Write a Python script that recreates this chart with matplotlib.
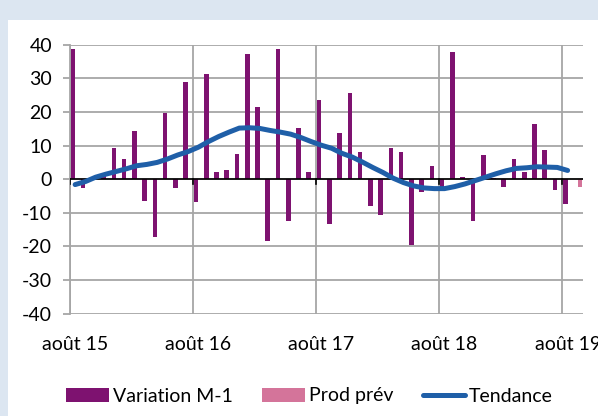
import numpy as np
import matplotlib.pyplot as plt
from matplotlib.patches import Rectangle

plt.rcParams['font.family'] = ['Lato', 'DejaVu Sans']
plt.rcParams['axes.unicode_minus'] = False

# monthly data, Aug 2015 -> Sep 2019 (50 months)
variation = [38.7, -2.5, 0.0, 1.0, 9.3, 6.1, 14.3, -6.4, -17.3, 19.7, -2.5, 28.9,
             -6.9, 31.2, 2.2, 2.8, 7.6, 37.1, 21.4, -18.4, 38.7, -12.4, 15.3, 2.2,
             23.5, -13.4, 13.7, 25.7, 8.2, -7.9, -10.7, 9.3, 8.2, -19.5, -3.7, 3.9,
             -2.4, 37.7, 0.7, -12.4, 7.2, 0.5, -2.2, 6.1, 2.0, 16.4, 8.8, -3.2,
             -7.5, np.nan]
prod_prev = [np.nan] * 49 + [-2.2]
tendance = [-1.6, -0.7, 0.6, 1.5, 2.3, 3.1, 4.0, 4.4, 5.0, 6.0, 7.2, 8.2,
            9.5, 11.2, 12.7, 14.0, 15.2, 15.3, 15.1, 14.5, 14.0, 13.4, 12.4, 11.2,
            10.1, 9.2, 7.7, 6.6, 5.1, 3.5, 2.0, 0.3, -1.0, -2.0, -2.6, -2.8,
            -2.8, -2.2, -1.4, -0.4, 0.6, 1.6, 2.5, 3.2, 3.4, 3.7, 3.6, 3.5,
            2.6]
xlabels = ['août 15', 'août 16', 'août 17', 'août 18', 'août 19']

purple = '#7e1270'
pink = '#d4749a'
blue = '#1f5fa8'
grid = '#a6a6a6'

fig = plt.figure(figsize=(5.98, 4.16), dpi=100, facecolor='#dce6f1')
fig.patches.append(Rectangle((8 / 598, 0), 1, 1 - 20 / 416, transform=fig.transFigure,
                             facecolor='white', edgecolor='none', zorder=-5))
ax = fig.add_axes([70 / 598, 1 - 313.7 / 416, 513 / 598, 269 / 416])
ax.set_facecolor('none')

x = np.arange(len(variation))
w = 0.45
ax.bar(x - w / 2, variation, width=w, color=purple, label='Variation M-1', zorder=3)
ax.bar(x + w / 2, prod_prev, width=w, color=pink, label='Prod prév', zorder=3)
ax.plot(np.arange(len(tendance)), tendance, color=blue, lw=3.6,
        solid_capstyle='round', label='Tendance', zorder=4)

ax.axhline(0, color='black', lw=1.2, zorder=3.5)
# year separators and small tick marks on the zero line
for b in [-0.5, 11.5, 23.5, 35.5, 47.5]:
    ax.axvline(b, color=grid, lw=1.3, zorder=1)
    ax.plot([b, b], [0, -1.4], color='black', lw=1.2, zorder=3.5)

ax.set_xlim(-0.5, 49.5)
ax.set_ylim(-40, 40)
ax.set_yticks(range(-40, 41, 10))
ax.yaxis.grid(True, color=grid, lw=1.3, zorder=1)
ax.set_xticks([0, 12, 24, 36, 48])
ax.set_xticklabels(xlabels)
ax.tick_params(axis='x', length=0, pad=16, labelsize=14, colors='black')
ax.tick_params(axis='y', length=5, width=1.3, color=grid, pad=8, labelsize=14)

for s in ['top', 'right', 'bottom']:
    ax.spines[s].set_visible(False)
ax.spines['left'].set_color(grid)
ax.spines['left'].set_linewidth(1.3)

handles, labels = ax.get_legend_handles_labels()
order = [1, 2, 0]
fig.legend([handles[i] for i in order], [labels[i] for i in order],
           loc='center', bbox_to_anchor=(0.518, 1 - 396 / 416), ncol=3, frameon=False,
           fontsize=14, handlelength=2.2, handleheight=0.7, handletextpad=0.2,
           columnspacing=1.5)

fig.savefig('out.png', dpi=100, facecolor=fig.get_facecolor())
